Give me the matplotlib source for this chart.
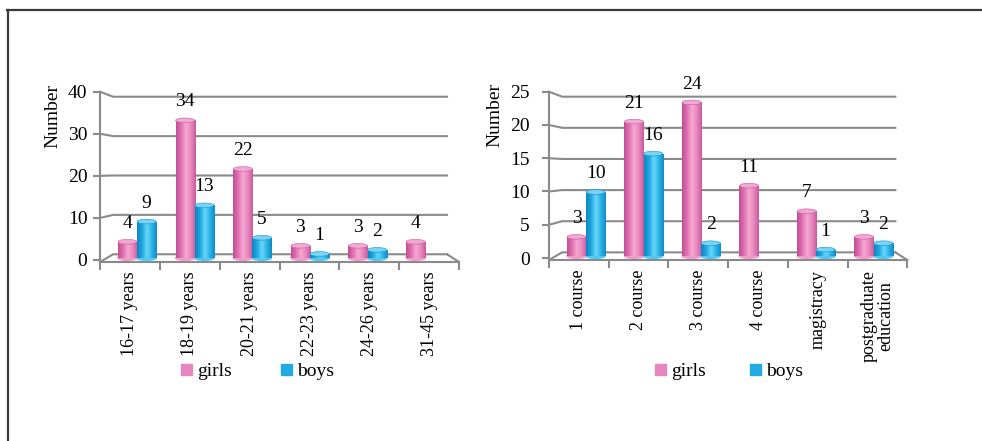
import numpy as np
import matplotlib.pyplot as plt
from matplotlib.patches import Ellipse, Patch
from matplotlib.lines import Line2D
from matplotlib.colors import LinearSegmentedColormap

plt.rcParams['font.family'] = ['Liberation Serif', 'DejaVu Serif']
plt.rcParams['font.size'] = 13.5

# age distribution
age_groups = ['16-17 years', '18-19 years', '20-21 years', '22-23 years', '24-26 years', '31-45 years']
age_girls = [4, 34, 22, 3, 3, 4]
age_boys = [9, 13, 5, 1, 2, 0]
age_ticks = [0, 10, 20, 30, 40]

# study level distribution
course_groups = ['1 course', '2 course', '3 course', '4 course', 'magistracy', 'postgraduate\neducation']
course_girls = [3, 21, 24, 11, 7, 3]
course_boys = [10, 16, 2, 0, 1, 2]
course_ticks = [0, 5, 10, 15, 20, 25]

pink_cmap = LinearSegmentedColormap.from_list('pink', ['#bf4f93', '#e070b0', '#f5a8d2', '#e887bf', '#c85a9c'])
blue_cmap = LinearSegmentedColormap.from_list('blue', ['#0f85bf', '#1ea6e0', '#6ad6f8', '#2bb3e8', '#128ac4'])
pink_top = '#f0a8d2'
blue_top = '#78d4f4'
grid_col = '#8a8a8a'
grad = np.linspace(0, 1, 64).reshape(1, -1)


def draw_chart(ax, groups, girls, boys, ticks, label_pad):
    ymax = ticks[-1]
    n = len(groups)
    front = -0.012 * ymax

    # back wall is shifted right and squeezed a bit to fake depth
    bx0, kx = 0.22, 0.93
    by0, ky = 0.034 * ymax, 0.936
    bx1 = bx0 + n * kx
    for t in ticks:
        yb = by0 + t * ky
        ax.plot([0, bx0, bx1], [t if t else front, yb, yb], color=grid_col, lw=1.5,
                clip_on=False, zorder=1)
    ax.plot([bx1, n], [by0, front], color=grid_col, lw=1.5, clip_on=False, zorder=1)

    # cylinder bars
    c = 0.62 + 0.963 * np.arange(n)
    w = 0.32
    b0 = 0.012 * ymax
    k = 0.962
    cap_h = 0.028 * ymax
    for xs, vals, cmap, cap in [(c - w / 2, girls, pink_cmap, pink_top),
                                (c + w / 2, boys, blue_cmap, blue_top)]:
        for x, v in zip(xs, vals):
            if v == 0:
                continue
            top = b0 + v * k
            ax.add_patch(Ellipse((x, b0), w, cap_h, color=cmap(0.6), zorder=2))
            bar = ax.bar(x, top - b0, bottom=b0, width=w, color=cmap(0.6), zorder=2)[0]
            im = ax.imshow(grad, cmap=cmap, extent=(x - w / 2, x + w / 2, b0, top),
                           aspect='auto', zorder=2.5)
            im.set_clip_path(bar)
            ax.add_patch(Ellipse((x, top), w, cap_h, facecolor=cap, edgecolor=cmap(0.1),
                                 lw=0.4, zorder=3))
            ax.annotate(str(v), (x, top), xytext=(0, 10), textcoords='offset points',
                        ha='center', va='baseline', fontsize=14)

    ax.set_xlim(0, n)
    ax.set_ylim(front, ymax)
    for s in ['top', 'right']:
        ax.spines[s].set_visible(False)
    for s in ['left', 'bottom']:
        ax.spines[s].set_color(grid_col)
        ax.spines[s].set_linewidth(1.5)
    ax.spines['left'].set_bounds(front, ymax)

    ax.set_yticks(ticks)
    ax.tick_params(axis='y', direction='out', length=5, width=1.5, color=grid_col,
                   pad=label_pad, labelsize=14)
    ax.set_xticks(np.arange(n + 1))
    ax.set_xticklabels([])
    ax.set_xticks(np.arange(n) + 0.5, minor=True)
    ax.set_xticklabels(groups, minor=True, rotation=90, ha='center', va='top',
                       linespacing=0.95)
    ax.tick_params(axis='x', which='major', direction='out', length=6, width=1.5, color=grid_col)
    ax.tick_params(axis='x', which='minor', length=0, pad=7, labelsize=13)
    ax.set_facecolor('none')


fig = plt.figure(figsize=(9.82, 4.41), dpi=100)

ax1 = fig.add_axes([100 / 982, 179 / 441, 359 / 982, 170.3 / 441])
draw_chart(ax1, age_groups, age_girls, age_boys, age_ticks, 4)
ax1.text(-0.13, 0.86, 'Number', rotation=90, ha='center', va='center',
         transform=ax1.transAxes, fontsize=14)

ax2 = fig.add_axes([549 / 982, 181 / 441, 358.3 / 982, 168.3 / 441])
draw_chart(ax2, course_groups, course_girls, course_boys, course_ticks, 9)
ax2.text(-0.151, 0.86, 'Number', rotation=90, ha='center', va='center',
         transform=ax2.transAxes, fontsize=14)

handles = [Patch(color='#e887bf', label='girls'), Patch(color='#22aae2', label='boys')]
for ax, x0, gap in [(ax1, 181, 2.5), (ax2, 655, 2.25)]:
    ax.legend(handles=handles, loc='center left', bbox_to_anchor=(x0 / 982, 1 - 372 / 441),
              bbox_transform=fig.transFigure, ncol=2, frameon=False, handlelength=0.55,
              handleheight=0.55, handletextpad=0.3, columnspacing=gap, borderpad=0,
              borderaxespad=0, fontsize=14)

# outer frame: top and left edges only
fig.add_artist(Line2D([7 / 982, 1], [1 - 10 / 441] * 2, transform=fig.transFigure,
                      color='#3a3a3a', lw=1.6))
fig.add_artist(Line2D([8 / 982] * 2, [0, 1 - 10 / 441], transform=fig.transFigure,
                      color='#3a3a3a', lw=1.6))

fig.savefig('out.png', dpi=100)
